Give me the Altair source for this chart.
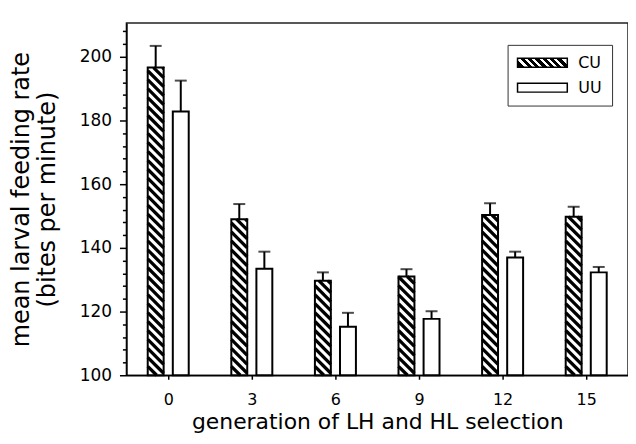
import altair as alt
import pandas as pd

# ---- data ----
generations = [0, 3, 6, 9, 12, 15]
groups = ["CU", "UU"]
cu_mean = [196.6, 149.0, 129.7, 131.0, 150.3, 149.8]
cu_se = [6.8, 4.75, 2.6, 2.3, 3.7, 3.1]
uu_mean = [182.8, 133.4, 115.2, 117.7, 137.0, 132.3]
uu_se = [9.7, 5.4, 4.4, 2.4, 1.8, 1.7]
x_tick_values = [0, 3, 6, 9, 12, 15]
y_tick_values = list(range(100, 209, 4))   # major every 20, minor every 4

# ---- layout ----
W, H = 504, 354
X_DOMAIN = [-1.5, 16.5]
Y_DOMAIN = [100, 210.6]
BASE = 100
OFFSET = 0.45      # bar centre offset from generation tick (gen units)
HALF = 0.2857      # half bar width (gen units)
px_per_x = W / (X_DOMAIN[1] - X_DOMAIN[0])
px_per_y = H / (Y_DOMAIN[1] - Y_DOMAIN[0])

rows = []
for g, m, s in zip(generations, cu_mean, cu_se):
    rows.append(dict(gen=g, group="CU", mean=m, se=s, center=g - OFFSET))
for g, m, s in zip(generations, uu_mean, uu_se):
    rows.append(dict(gen=g, group="UU", mean=m, se=s, center=g + OFFSET))
bars = pd.DataFrame(rows)
bars["x0"] = bars["center"] - HALF
bars["x1"] = bars["center"] + HALF
bars["upper"] = bars["mean"] + bars["se"]
bars["base"] = BASE

# hatch segments ("\\" at 45 degrees) clipped to each CU bar
period = 9.0 / px_per_y               # vertical stripe period in value units
slope = px_per_x / px_per_y           # value units per gen unit for 45 deg
hatch = []
for _, r in bars[bars.group == "CU"].iterrows():
    xl, xr, top = r.x0, r.x1, r["mean"]
    w = xr - xl
    k = 0
    while True:
        c = BASE + k * period
        if c - slope * w >= top:
            break
        xs = max(xl, xl + (c - top) / slope)
        xe = min(xr, xl + (c - BASE) / slope)
        if xe > xs:
            hatch.append(dict(hx=xs, hx2=xe,
                              hy=c - slope * (xs - xl),
                              hy2=c - slope * (xe - xl)))
        k += 1
hatch = pd.DataFrame(hatch)

# striped gradient for the legend swatch
n = 7
stops = []
for i in range(n):
    a, b, e = i / n, (i + 0.55) / n, (i + 1) / n
    stops += [(a, "black"), (b, "black"), (b, "white"), (e, "white")]
grad_expr = ("{'gradient': 'linear', 'x1': 0, 'y1': 0.59, 'x2': 1, 'y2': 0.41, 'stops': ["
             + ", ".join("{'offset': %.4f, 'color': '%s'}" % (o, c) for o, c in stops)
             + "]}")

xscale = alt.Scale(domain=X_DOMAIN, nice=False, zero=False)
yscale = alt.Scale(domain=Y_DOMAIN, nice=False, zero=False)
xaxis = alt.Axis(values=x_tick_values, title="generation of LH and HL selection",
                 tickSize=4, labelPadding=12, labelFontSize=16,
                 titlePadding=4, titleFontSize=22, grid=False)
yaxis = alt.Axis(values=y_tick_values,
                 title=["mean larval feeding rate", "(bites per minute)"],
                 tickSize={"condition": {"test": "datum.value % 20 === 0", "value": 7}, "value": 4},
                 labelExpr="datum.value % 20 === 0 ? datum.label : ''",
                 labelPadding=8, titlePadding=20, titleLineHeight=26, grid=False)


def X(f):
    return alt.X(f, type="quantitative", scale=xscale, axis=xaxis)


def Y(f):
    return alt.Y(f, type="quantitative", scale=yscale, axis=yaxis)


base = alt.Chart(bars)

legend_layer = base.mark_rect().encode(
    x=X("x0"), x2="x1", y=Y("mean"), y2="base",
    fill=alt.Fill("group:N",
                  scale=alt.Scale(domain=groups, range=[alt.ExprRef(expr=grad_expr), "white"]),
                  legend=alt.Legend(title=None, orient="none", legendX=383, legendY=22,
                                    strokeColor="#333", padding=10,
                                    symbolType="M-5,-0.9H5V0.9H-5Z", symbolSize=100,
                                    symbolOffset=17, labelOffset=28,
                                    symbolStrokeColor="black", symbolStrokeWidth=1.5,
                                    labelFont="DejaVu Sans", labelFontSize=16,
                                    labelColor="black", rowPadding=9)),
)

cover = base.mark_rect(fill="white").encode(x=X("x0"), x2="x1", y=Y("mean"), y2="base")

hatch_layer = alt.Chart(hatch).mark_rule(color="black", strokeWidth=3.3, strokeCap="butt").encode(
    x=X("hx"), x2="hx2", y=Y("hy"), y2="hy2")

outline = base.mark_rect(fillOpacity=0, stroke="black", strokeWidth=2).encode(
    x=X("x0"), x2="x1", y=Y("mean"), y2="base")

err = base.mark_rule(color="black", strokeWidth=2).encode(
    x=X("center"), y=Y("mean"), y2="upper")

caps = base.mark_tick(orient="horizontal", size=12, thickness=2, color="black").encode(
    x=X("center"), y=Y("upper"))

chart = alt.layer(legend_layer, cover, hatch_layer, outline, err, caps).properties(
    width=W, height=H,
    background="white",
    autosize=alt.AutoSizeParams(type="none"),
    padding={"left": 119, "top": 14, "right": 0, "bottom": 60},
).configure_view(
    stroke="#222", strokeWidth=1.5
).configure_axis(
    domainColor="black", domainWidth=1.5, tickColor="black", tickWidth=1.5,
    labelFont="DejaVu Sans", labelFontSize=17, labelColor="black",
    titleFont="DejaVu Sans", titleFontSize=24, titleFontWeight="normal", titleColor="black",
)

chart.save("out.html", embed_options={"renderer": "svg", "actions": False})
